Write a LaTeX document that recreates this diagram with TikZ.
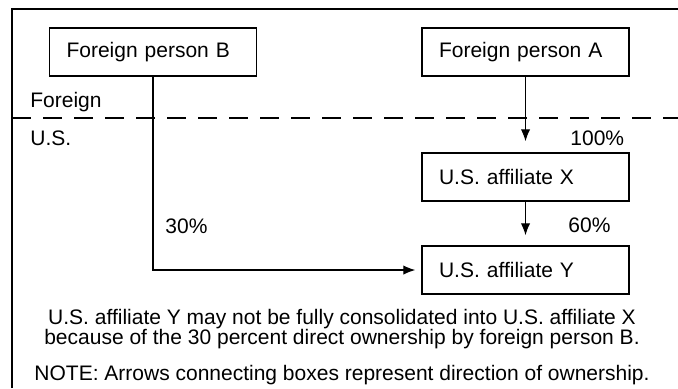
\documentclass[tikz,border=0pt]{standalone}
\usepackage{fontspec}
\setmainfont{Liberation Sans}
\usetikzlibrary{arrows.meta}

\tikzset{
    ownbox/.style={draw, line width=0.7pt, minimum height=24pt, text width=86.5pt,
        inner xsep=8.5pt, align=left},
    owns/.style={line width=0.6pt, -{Latex[length=6pt, width=4.7pt]}},
    borderline/.style={line width=1.3pt, dash pattern=on 9.5pt off 6pt},
    tag/.style={anchor=base west, inner sep=0pt}
}

\begin{document}
\begin{tikzpicture}[x=0.5pt, y=-0.5pt, font=\fontsize{10.5}{10.25}\selectfont]
    \useasboundingbox (0, 0) rectangle (678, 388);
    \draw[line width=0.75pt] (12, 388) |- (678, 9); % outer frame
    \draw[borderline] (12, 118) -- (678, 118); % foreign / U.S. border

    \node[ownbox] (B) at (153, 52) {Foreign person B};
    \node[ownbox] (A) at (525.5, 52) {Foreign person A};
    \node[ownbox] (X) at (525.5, 177) {U.S. affiliate X};
    \node[ownbox] (Y) at (525.5, 270) {U.S. affiliate Y};

    \draw[owns, shorten >=5.5pt] (A) -- (X);
    \draw[owns, shorten >=5pt] (X) -- (Y);
    \draw[owns, shorten >=3pt] (B) |- (Y);

    \foreach \name/\x/\y/\txt in {foreign/30/107/Foreign, us/30/145/U.S.,
        p100/570/145/100\%, p60/568/232/60\%, p30/165/233/30\%} {
        \node[tag] (\name) at (\x, \y) {\txt}; % region and share labels
    }

    \node[align=center, inner sep=0pt] (remark) at (342, 329)
        {U.S. affiliate Y may not be fully consolidated into U.S. affiliate X\\
         because of the 30 percent direct ownership by foreign person B.};
    \node[anchor=base, inner sep=0pt] (note) at (342, 380)
        {NOTE: Arrows connecting boxes represent direction of ownership.};

\end{tikzpicture}
\end{document}
